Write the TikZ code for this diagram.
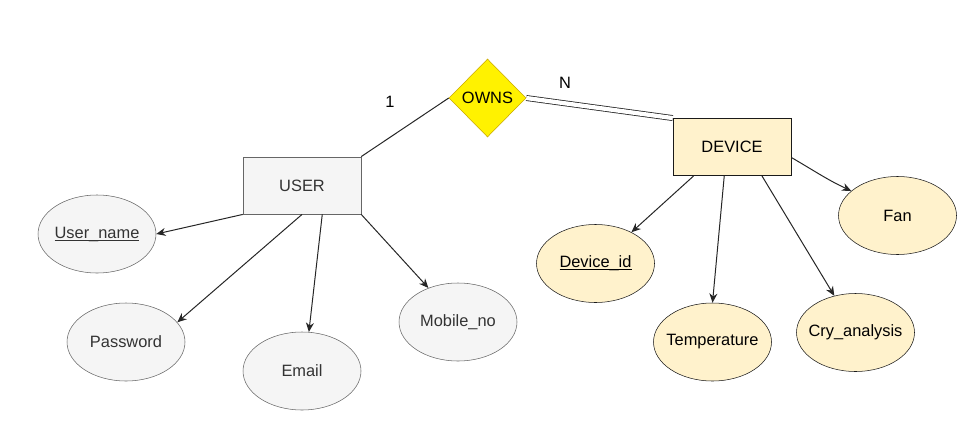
\documentclass[tikz,border=0pt]{standalone}
\usepackage{fontspec}
\setmainfont{Liberation Sans}
\usetikzlibrary{shapes.geometric,arrows.meta}
\definecolor{ugray}{HTML}{F5F5F5}
\definecolor{ustroke}{HTML}{666666}
\definecolor{dfill}{HTML}{FFF2CC}
\definecolor{dstroke}{HTML}{1A1A1A}
\definecolor{ystroke}{HTML}{C9A800}
\definecolor{txt}{HTML}{333333}
\newcommand{\zw}[1]{\makebox[0pt]{#1}}
\newcommand{\keyul}[1]{\underline{\smash{#1}}\vphantom{#1}}
\tikzset{
  ent/.style={rectangle, minimum width=88.5pt, minimum height=43pt, inner sep=0pt, font=\fontsize{12.3}{14}\selectfont},
  userent/.style={ent, fill=ugray, draw=ustroke, text=txt},
  devent/.style={ent, fill=dfill, draw=dstroke, text=black},
  attr/.style={ellipse, minimum width=88.5pt, minimum height=58.5pt, inner sep=0pt, font=\fontsize{12.3}{14}\selectfont},
  uattr/.style={attr, fill=ugray, draw=ustroke, text=txt},
  dattr/.style={attr, fill=dfill, draw=dstroke, text=black},
  rel/.style={diamond, minimum width=57.75pt, minimum height=58.5pt, inner sep=0pt, fill=yellow, draw=ystroke, font=\fontsize{12.3}{14}\selectfont},
  conn/.style={draw=black!85, line width=0.75pt},
  arr/.style={conn, -{Stealth[length=7pt,width=6pt]}},
  card/.style={font=\fontsize{12.3}{14}\selectfont, text=black},
}
\begin{document}
\begin{tikzpicture}[x=0.75pt,y=-0.75pt]
\useasboundingbox (0,0) rectangle (970,432);
\node[userent] (user) at (302,185.5) {USER};
\node[devent] (device) at (732,147) {DEVICE};
\node[rel] (owns) at (487.5,98) {\zw{OWNS}};
\node[uattr] (uname) at (97,234) {\zw{\keyul{User\_name}}};
\node[uattr] (pw) at (126,342) {\zw{Password}};
\node[uattr] (email) at (302,371) {\zw{Email}};
\node[uattr] (mob) at (458,322) {\zw{Mobile\_no}};
\node[dattr] (did) at (595.5,263.5) {\zw{\keyul{Device\_id}}};
\node[dattr] (temp) at (712.5,342) {\zw{Temperature}};
\node[dattr] (cry) at (855.5,332.5) {\zw{Cry\_analysis}};
\node[dattr] (fan) at (897.5,215.5) {\zw{Fan}};
\node[card] (one) at (390,102) {1};
\node[card] (enn) at (565,83) {N};
\draw[conn] (user.north east) -- (owns.west);
\draw[conn, double=white, double distance=3.2pt, line width=0.6pt] (owns.east) -- (device.north west);
\draw[arr] (user.south west) -- (uname.east);
\draw[arr] (user.south) -- (pw.21);
\draw[arr] (user.-55) -- (email.80);
\draw[arr] (user.south east) -- (mob.131);
\draw[arr] (device.-143) -- (did.41);
\draw[arr] (device.-105) -- (temp.north);
\draw[arr] (device.-44) -- (cry.120);
\draw[arr] (device.-10) to[out=-30,in=155] (fan.152);
\end{tikzpicture}
\end{document}
